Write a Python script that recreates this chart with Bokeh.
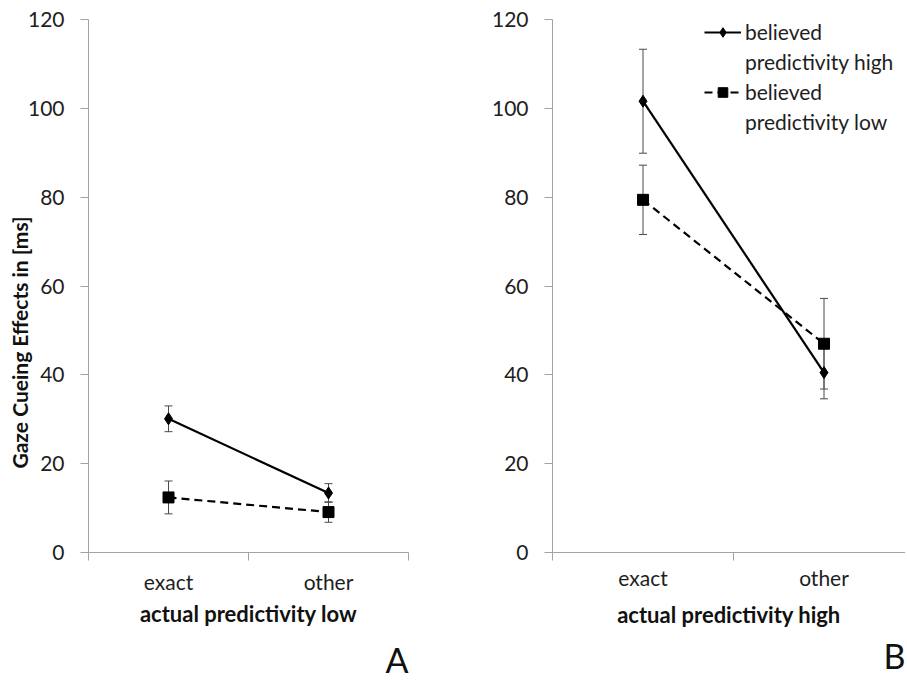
import math
from bokeh.plotting import figure
from bokeh.models import (ColumnDataSource, Whisker, TeeHead, FixedTicker, Legend,
                          LegendItem, Title, Range1d)
from bokeh.layouts import row
from bokeh.embed import file_html
from bokeh.resources import INLINE

# ---- data -------------------------------------------------------------
categories = ["exact", "other"]
cat_x = [0.5, 1.5]
boundary_ticks = [0, 1, 2]
y_ticks = [0, 20, 40, 60, 80, 100, 120]

# Panel A: actual predictivity low
a_high_mean = [30.1, 13.4]
a_high_err = [2.9, 2.1]
a_low_mean = [12.4, 9.1]
a_low_err = [3.7, 2.3]

# Panel B: actual predictivity high
b_high_mean = [101.6, 40.5]
b_high_err = [11.7, 5.9]
b_low_mean = [79.4, 47.0]
b_low_err = [7.8, 10.2]

legend_high = ["believed", "predictivity high"]
legend_low = ["believed", "predictivity low"]
y_title = "Gaze Cueing Effects in [ms]"

FONT = "Lato"
AXIS_GREY = "#a3a3a3"
TEXT = "#1e1e1e"


def make_panel(high_mean, high_err, low_mean, low_err, xlabel, x_end, width,
               b_left, b_right, letter, show_ylabel=False, show_legend=False,
               lab_standoff=8, title_standoff=3, letter_standoff=10):
    p = figure(width=width, height=687, x_range=Range1d(0, x_end),
               y_range=Range1d(0, 120), output_backend="svg",
               toolbar_location=None, min_border_left=b_left,
               min_border_right=b_right, min_border_top=19,
               min_border_bottom=135)
    p.outline_line_color = None
    p.xgrid.visible = False
    p.ygrid.visible = False
    p.background_fill_color = "white"
    p.border_fill_color = "white"

    # x axis: labels at category centres, tick marks at category boundaries
    xa = p.xaxis[0]
    xa.ticker = FixedTicker(ticks=cat_x, minor_ticks=boundary_ticks)
    xa.major_label_overrides = {cat_x[i]: categories[i] for i in range(len(categories))}
    xa.major_tick_out = 0
    xa.major_tick_in = 0
    xa.minor_tick_out = 8
    xa.minor_tick_in = 0
    xa.minor_tick_line_color = AXIS_GREY
    xa.axis_line_color = AXIS_GREY
    xa.major_label_standoff = lab_standoff
    xa.major_label_text_font = FONT
    xa.major_label_text_font_size = "21px"
    xa.major_label_text_color = TEXT
    xa.axis_label = xlabel
    xa.axis_label_text_font = FONT
    xa.axis_label_text_font_style = "bold"
    xa.axis_label_text_font_size = "22px"
    xa.axis_label_text_color = "#111111"
    xa.axis_label_standoff = title_standoff

    ya = p.yaxis[0]
    ya.ticker = FixedTicker(ticks=y_ticks)
    ya.major_tick_out = 8
    ya.major_tick_in = 0
    ya.minor_tick_out = 0
    ya.minor_tick_in = 0
    ya.major_tick_line_color = AXIS_GREY
    ya.axis_line_color = AXIS_GREY
    ya.major_label_standoff = 16
    ya.major_label_text_font = FONT
    ya.major_label_text_font_size = "21px"
    ya.major_label_text_color = TEXT

    src_h = ColumnDataSource(dict(x=cat_x, y=high_mean,
                                  lo=[m - e for m, e in zip(high_mean, high_err)],
                                  hi=[m + e for m, e in zip(high_mean, high_err)]))
    src_l = ColumnDataSource(dict(x=cat_x, y=low_mean,
                                  lo=[m - e for m, e in zip(low_mean, low_err)],
                                  hi=[m + e for m, e in zip(low_mean, low_err)]))

    for src in (src_h, src_l):
        w = Whisker(source=src, base="x", upper="hi", lower="lo",
                    line_color="#4a4a4a", line_width=1,
                    upper_head=TeeHead(size=8, line_color="#4a4a4a", line_width=1),
                    lower_head=TeeHead(size=8, line_color="#4a4a4a", line_width=1))
        p.add_layout(w)

    lh = p.line("x", "y", source=src_l, line_color="black", line_width=2.2,
                line_dash="8 5")
    sh = p.scatter("x", "y", source=src_l, marker="square", size=11,
                   fill_color="black", line_color="black")
    l1 = p.line("x", "y", source=src_h, line_color="black", line_width=2.2)
    s1 = p.scatter("x", "y", source=src_h, marker="diamond", size=12,
                   fill_color="black", line_color="black")

    if show_legend:
        items = [LegendItem(label=legend_high[0], renderers=[l1, s1]),
                 LegendItem(label=legend_high[1], renderers=[]),
                 LegendItem(label=legend_low[0], renderers=[lh, sh]),
                 LegendItem(label=legend_low[1], renderers=[])]
        leg = Legend(items=items, location="top_right", margin=0, padding=0,
                     spacing=5, glyph_width=37, glyph_height=24, label_height=24,
                     label_width=160, label_standoff=4, label_text_font=FONT,
                     label_text_font_size="21px", label_text_color=TEXT,
                     border_line_color=None, background_fill_alpha=0)
        p.add_layout(leg)

    if show_ylabel:
        p.add_layout(Title(text=y_title, align="left", offset=84, standoff=-15,
                           text_font=FONT, text_font_style="bold",
                           text_font_size="21px", text_color="#111111"), "left")

    p.add_layout(Title(text=letter, align="right", standoff=letter_standoff,
                       text_font=FONT, text_font_style="normal",
                       text_font_size="34px", text_color="#111111"), "below")
    return p


pa = make_panel(a_high_mean, a_high_err, a_low_mean, a_low_err,
                "actual predictivity low", 2.0, 448, 88, 40, "A",
                show_ylabel=True, lab_standoff=8, title_standoff=3,
                letter_standoff=14)
pb = make_panel(b_high_mean, b_high_err, b_low_mean, b_low_err,
                "actual predictivity high", 353 / 181, 457, 104, 0, "B",
                show_legend=True, lab_standoff=4, title_standoff=8,
                letter_standoff=5)

layout = row(pa, pb)
open("out.html", "w").write(file_html(layout, INLINE))
